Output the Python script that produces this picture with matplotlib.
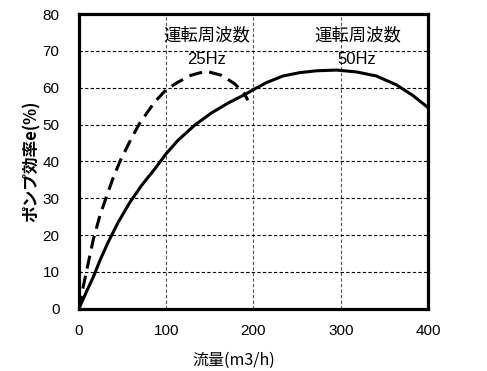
import matplotlib
matplotlib.use("Agg")
import matplotlib.pyplot as plt

plt.rcParams['font.family'] = ['Liberation Sans', 'Noto Sans CJK JP', 'DejaVu Sans']

# 50Hz operation (solid)
flow_50 = [0, 10, 16.5, 24.1, 33.6, 45.1, 58.5, 71.9, 87.1, 100, 113.4, 132.5, 151.5,
           170.6, 189.7, 200, 214.9, 233.9, 253, 272, 295, 317.8, 340.7, 363.6, 382.6, 400]
eff_50 = [0, 5.3, 8.6, 13.1, 18.1, 23.5, 28.9, 33.5, 38.0, 42.1, 45.7, 49.8, 53.1,
          55.8, 58.1, 59.5, 61.4, 63.2, 64.1, 64.6, 64.8, 64.3, 63.2, 60.8, 57.9, 54.6]

# 25Hz operation (dashed)
flow_25 = [0, 5, 10.8, 16.5, 24.1, 31.8, 39.4, 47, 60, 69.5, 86.7, 100, 113.4, 128.6,
           145.8, 163, 178.3, 189.7, 193.5]
eff_25 = [0, 6, 12.5, 18.8, 25.3, 30.6, 35.6, 40.0, 46.2, 50.3, 56.1, 59.5, 61.5, 63.4,
          64.5, 63.4, 61.1, 58.4, 56.6]

x_ticks = [0, 100, 200, 300, 400]
y_ticks = [0, 10, 20, 30, 40, 50, 60, 70, 80]

cjk = ['Noto Sans CJK JP', 'Liberation Sans', 'DejaVu Sans']

fig = plt.figure(figsize=(4.87, 3.71), dpi=100)
ax = fig.add_axes([0.162, 0.168, 0.717, 0.794])

for x in [100, 200, 300]:
    ax.axvline(x, color='#555555', lw=0.8, ls=(0, (3, 2)), zorder=1)
for y in [10, 20, 30, 40, 50, 60, 70]:
    ax.axhline(y, color='black', lw=0.8, ls=(0, (3, 2)), zorder=1)

ax.plot(flow_50, eff_50, color='black', lw=2.2, solid_joinstyle='round',
        solid_capstyle='butt', zorder=3)
ax.plot(flow_25, eff_25, color='black', lw=2.2, ls=(0, (4.3, 2.4)),
        dash_joinstyle='round', zorder=3)

ax.set_xlim(0, 400)
ax.set_ylim(0, 80)
ax.set_xticks(x_ticks)
ax.set_yticks(y_ticks)
ax.tick_params(length=0, labelsize=11, colors='black')
ax.tick_params(axis='x', pad=11)
ax.tick_params(axis='y', pad=14)
for s in ax.spines.values():
    s.set_linewidth(2.3)
    s.set_color('black')

ax.text(146, 74.3, '運転周波数', family=cjk, fontsize=12.5, ha='center', va='center')
ax.text(146, 67.8, '25Hz', fontsize=12, ha='center', va='center')
ax.text(320, 74.3, '運転周波数', family=cjk, fontsize=12.5, ha='center', va='center')
ax.text(318, 67.6, '50Hz', fontsize=12, ha='center', va='center')

fig.text(234 / 487, 1 - 360 / 371, '流量(m3/h)', family=cjk, fontsize=11.5,
         ha='center', va='center')
fig.text(32 / 487, 1 - 161 / 371, 'ポンプ効率e(%)', family=cjk, fontsize=12,
         fontweight='bold', rotation=90, ha='center', va='center')

fig.savefig('out.png', dpi=100)
